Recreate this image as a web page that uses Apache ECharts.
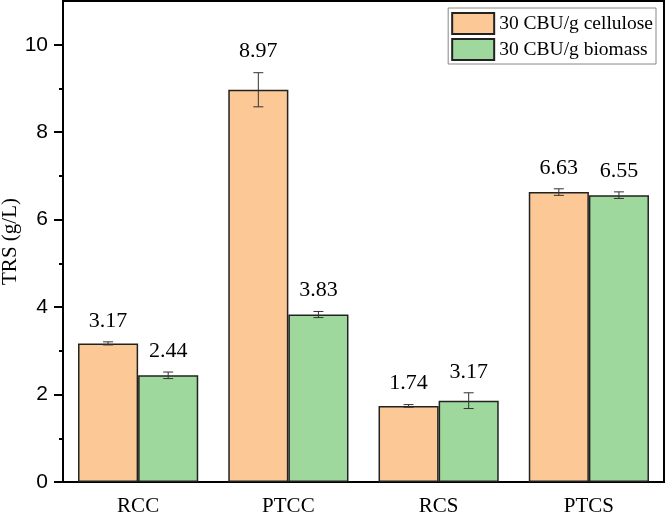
<!DOCTYPE html>
<html>
<head>
<meta charset="utf-8">
<script src="https://cdn.jsdelivr.net/npm/echarts@6/dist/echarts.min.js"></script>
<style>
  html, body { margin: 0; padding: 0; background: #fff; }
  #chart { width: 666px; height: 513px; }
</style>
</head>
<body>
<div id="chart"></div>
<script>
// values
const categories = ['RCC', 'PTCC', 'RCS', 'PTCS'];
const cellulose = [3.17, 8.97, 1.74, 6.63];
const biomass = [2.44, 3.83, 1.86, 6.56];
const celluloseErr = [0.035, 0.39, 0.03, 0.075];
const biomassErr = [0.075, 0.07, 0.18, 0.075];
const celluloseLabels = ['3.17', '8.97', '1.74', '6.63'];
const biomassLabels = ['2.44', '3.83', '3.17', '6.55'];
const yMajor = [0, 2, 4, 6, 8, 10];
const yMinor = [1, 3, 5, 7, 9];

const serif = 'Liberation Serif';
const sans = 'Liberation Sans';

// error bar + value label, side -1 = left bar, 1 = right bar
function errRender(labels, side) {
  return function (params, api) {
    const i = api.value(0);
    const v = api.value(1);
    const e = api.value(2);
    const band = api.size([1, 0])[0];
    const x = api.coord([i, v])[0] + side * band * 0.2;
    const top = api.coord([i, v + e])[1];
    const bot = api.coord([i, v - e])[1];
    const cap = 5;
    const line = { stroke: '#333', lineWidth: 1 };
    return {
      type: 'group',
      children: [
        { type: 'line', shape: { x1: x, y1: top, x2: x, y2: bot }, style: line },
        { type: 'line', shape: { x1: x - cap, y1: top, x2: x + cap, y2: top }, style: line },
        { type: 'line', shape: { x1: x - cap, y1: bot, x2: x + cap, y2: bot }, style: line },
        {
          type: 'text',
          style: {
            text: labels[i], x: x, y: top - 21,
            align: 'center', verticalAlign: 'middle',
            font: '22px "' + serif + '"', fill: '#000'
          }
        }
      ]
    };
  };
}

const chart = echarts.init(document.getElementById('chart'));
chart.setOption({
  animation: false,
  grid: {
    left: 63, right: 2, top: 1, bottom: 31,
    show: true, borderColor: '#000', borderWidth: 2,
    outerBoundsMode: 'none'
  },
  legend: {
    data: ['30 CBU/g cellulose', '30 CBU/g biomass'],
    orient: 'vertical',
    right: 10,
    top: 8,
    icon: 'rect',
    itemWidth: 42,
    itemHeight: 21,
    itemGap: 3,
    padding: [4, 3, 3, 3],
    borderColor: '#888',
    borderWidth: 1,
    textStyle: { fontFamily: serif, fontSize: 19.5, color: '#000' }
  },
  xAxis: [
    {
      type: 'category',
      data: categories,
      position: 'bottom',
      axisLine: { lineStyle: { color: '#000', width: 2 } },
      axisTick: { alignWithLabel: true, length: 9, lineStyle: { color: '#000', width: 2 } },
      axisLabel: { fontFamily: serif, fontSize: 21, color: '#000', margin: 14 }
    },
    {
      type: 'category',
      data: categories,
      position: 'bottom',
      axisLine: { show: false },
      axisTick: { length: 5, lineStyle: { color: '#000', width: 2 } },
      axisLabel: { show: false }
    }
  ],
  yAxis: [
    {
      type: 'value',
      min: 0,
      max: 11,
      interval: 2,
      position: 'left',
      name: 'TRS (g/L)',
      nameLocation: 'middle',
      nameGap: 42,
      nameMoveOverlap: false,
      nameTextStyle: { fontFamily: serif, fontSize: 21, color: '#000' },
      axisLine: { show: true, lineStyle: { color: '#000', width: 2 } },
      axisTick: { show: true, length: 9, customValues: yMajor, lineStyle: { color: '#000', width: 2 } },
      axisLabel: { customValues: yMajor, fontFamily: sans, fontSize: 21, color: '#000', margin: 15 },
      splitLine: { show: false }
    },
    {
      type: 'value',
      min: 0,
      max: 11,
      position: 'left',
      axisLine: { show: false },
      axisTick: { show: true, length: 4, customValues: yMinor, lineStyle: { color: '#000', width: 2 } },
      axisLabel: { show: false },
      splitLine: { show: false }
    }
  ],
  series: [
    {
      name: '30 CBU/g cellulose',
      type: 'bar',
      data: cellulose,
      barGap: '0%',
      barCategoryGap: '20%',
      itemStyle: { color: '#FCC896', borderColor: '#222', borderWidth: 1.5 }
    },
    {
      name: '30 CBU/g biomass',
      type: 'bar',
      data: biomass,
      barGap: '0%',
      barCategoryGap: '20%',
      itemStyle: { color: '#9ED89D', borderColor: '#222', borderWidth: 1.5 }
    },
    {
      type: 'custom',
      z: 5,
      renderItem: errRender(celluloseLabels, -1),
      data: cellulose.map((v, i) => [i, v, celluloseErr[i]])
    },
    {
      type: 'custom',
      z: 5,
      renderItem: errRender(biomassLabels, 1),
      data: biomass.map((v, i) => [i, v, biomassErr[i]])
    }
  ]
});
</script>
</body>
</html>
